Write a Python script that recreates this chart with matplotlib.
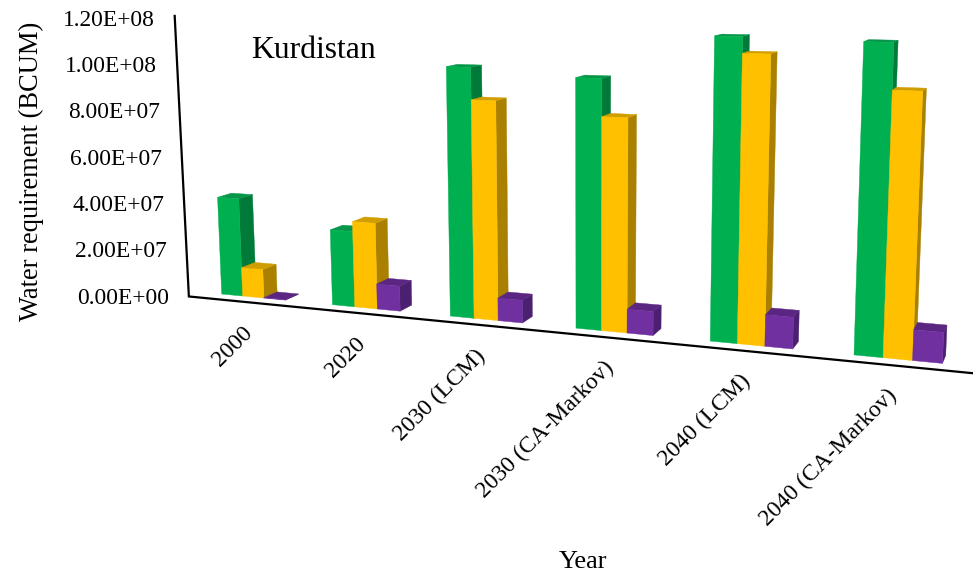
import numpy as np
from matplotlib import pyplot as plt
from matplotlib.patches import Polygon

plt.rcParams["font.family"] = ["Liberation Serif", "DejaVu Serif"]

categories = ["2000", "2020", "2030 (LCM)", "2030 (CA-Markov)", "2040 (LCM)", "2040 (CA-Markov)"]
green_values = [4.25e7, 3.20e7, 1.015e8, 9.88e7, 1.158e8, 1.149e8]
yellow_values = [1.25e7, 3.62e7, 8.87e7, 8.42e7, 1.097e8, 9.80e7]
purple_values = [2.0e5, 1.06e7, 9.3e6, 9.5e6, 1.22e7, 1.15e7]
y_ticks = [0, 2e7, 4e7, 6e7, 8e7, 1e8, 1.2e8]
y_tick_labels = ["0.00E+00", "2.00E+07", "4.00E+07", "6.00E+07", "8.00E+07", "1.00E+08", "1.20E+08"]

# (front, side, top) shade of each series
series = [
    (green_values, ("#00B050", "#007A38", "#05964A")),
    (yellow_values, ("#FFC000", "#AA8000", "#D09E00")),
    (purple_values, ("#7030A0", "#4B2070", "#5A2682")),
]

GROUP_STEP = 5.0
BAR_WIDTH = 0.97


def project(t, value, depth=0.0):
    """Perspective projection of (slot along the floor, value, bar depth) to figure pixels."""
    v = value / 1e8
    w = 1 - 0.006014 * t - 0.02614 * v + 0.0155 * depth
    x = 221.7 + 20.156 * t - 15.42 * v + 17.36 * depth
    y = 294.0 + 0.3014 * t - 232.7 * v - 1.085 * depth
    return x / w, y / w


def draw_bar(ax, t, value, colors):
    front, side, top = colors
    t2 = t + BAR_WIDTH
    faces = [
        (side, [(t2, 0, 0), (t2, 0, 1), (t2, value, 1), (t2, value, 0)]),
        (top, [(t, value, 0), (t2, value, 0), (t2, value, 1), (t, value, 1)]),
        (front, [(t, 0, 0), (t2, 0, 0), (t2, value, 0), (t, value, 0)]),
    ]
    for color, corners in faces:
        points = [project(*corner) for corner in corners]
        ax.add_patch(Polygon(points, closed=True, facecolor=color, edgecolor=color, linewidth=0.3))


fig = plt.figure(figsize=(9.73, 5.72), dpi=100)
ax = fig.add_axes([0, 0, 1, 1])
ax.set_xlim(0, 973)
ax.set_ylim(572, 0)
ax.axis("off")

# Bars, left to right so that each one covers the side of its neighbour
for group in range(len(categories)):
    for slot, (values, colors) in enumerate(series):
        draw_bar(ax, group * GROUP_STEP + slot * BAR_WIDTH, values[group], colors)

# Value axis and floor line
axis_top = project(-1.05, y_ticks[-1], -0.8)
origin = project(-1.0, 0, -0.8)
floor_end = project(28.95, 0, -0.8)
ax.plot([axis_top[0], origin[0], floor_end[0]], [axis_top[1], origin[1], floor_end[1]],
        color="black", linewidth=1.6, solid_joinstyle="miter")

# Tick labels drift right towards the foot of the axis
for tick, label in zip(y_ticks, y_tick_labels):
    share = tick / y_ticks[-1]
    ax.text(169 - 14 * share, 298 - 277.5 * share, label, ha="right", va="center", fontsize=16.9, color="black")

for group, label in enumerate(categories):
    x, y = project(group * GROUP_STEP + 1.5 * BAR_WIDTH, 0)
    ax.text(x - 4, y + 33, label, rotation=45, rotation_mode="anchor", ha="right", va="center",
            fontsize=17, color="black")

ax.text(314, 51, "Kurdistan", ha="center", va="center", fontsize=22.8, color="black")
ax.text(31, 171, "Water requirement (BCUM)", rotation=90, ha="center", va="center", fontsize=19.1, color="black")
ax.text(583, 562, "Year", ha="center", va="center", fontsize=19, color="black")

fig.savefig("out.png", dpi=100)
